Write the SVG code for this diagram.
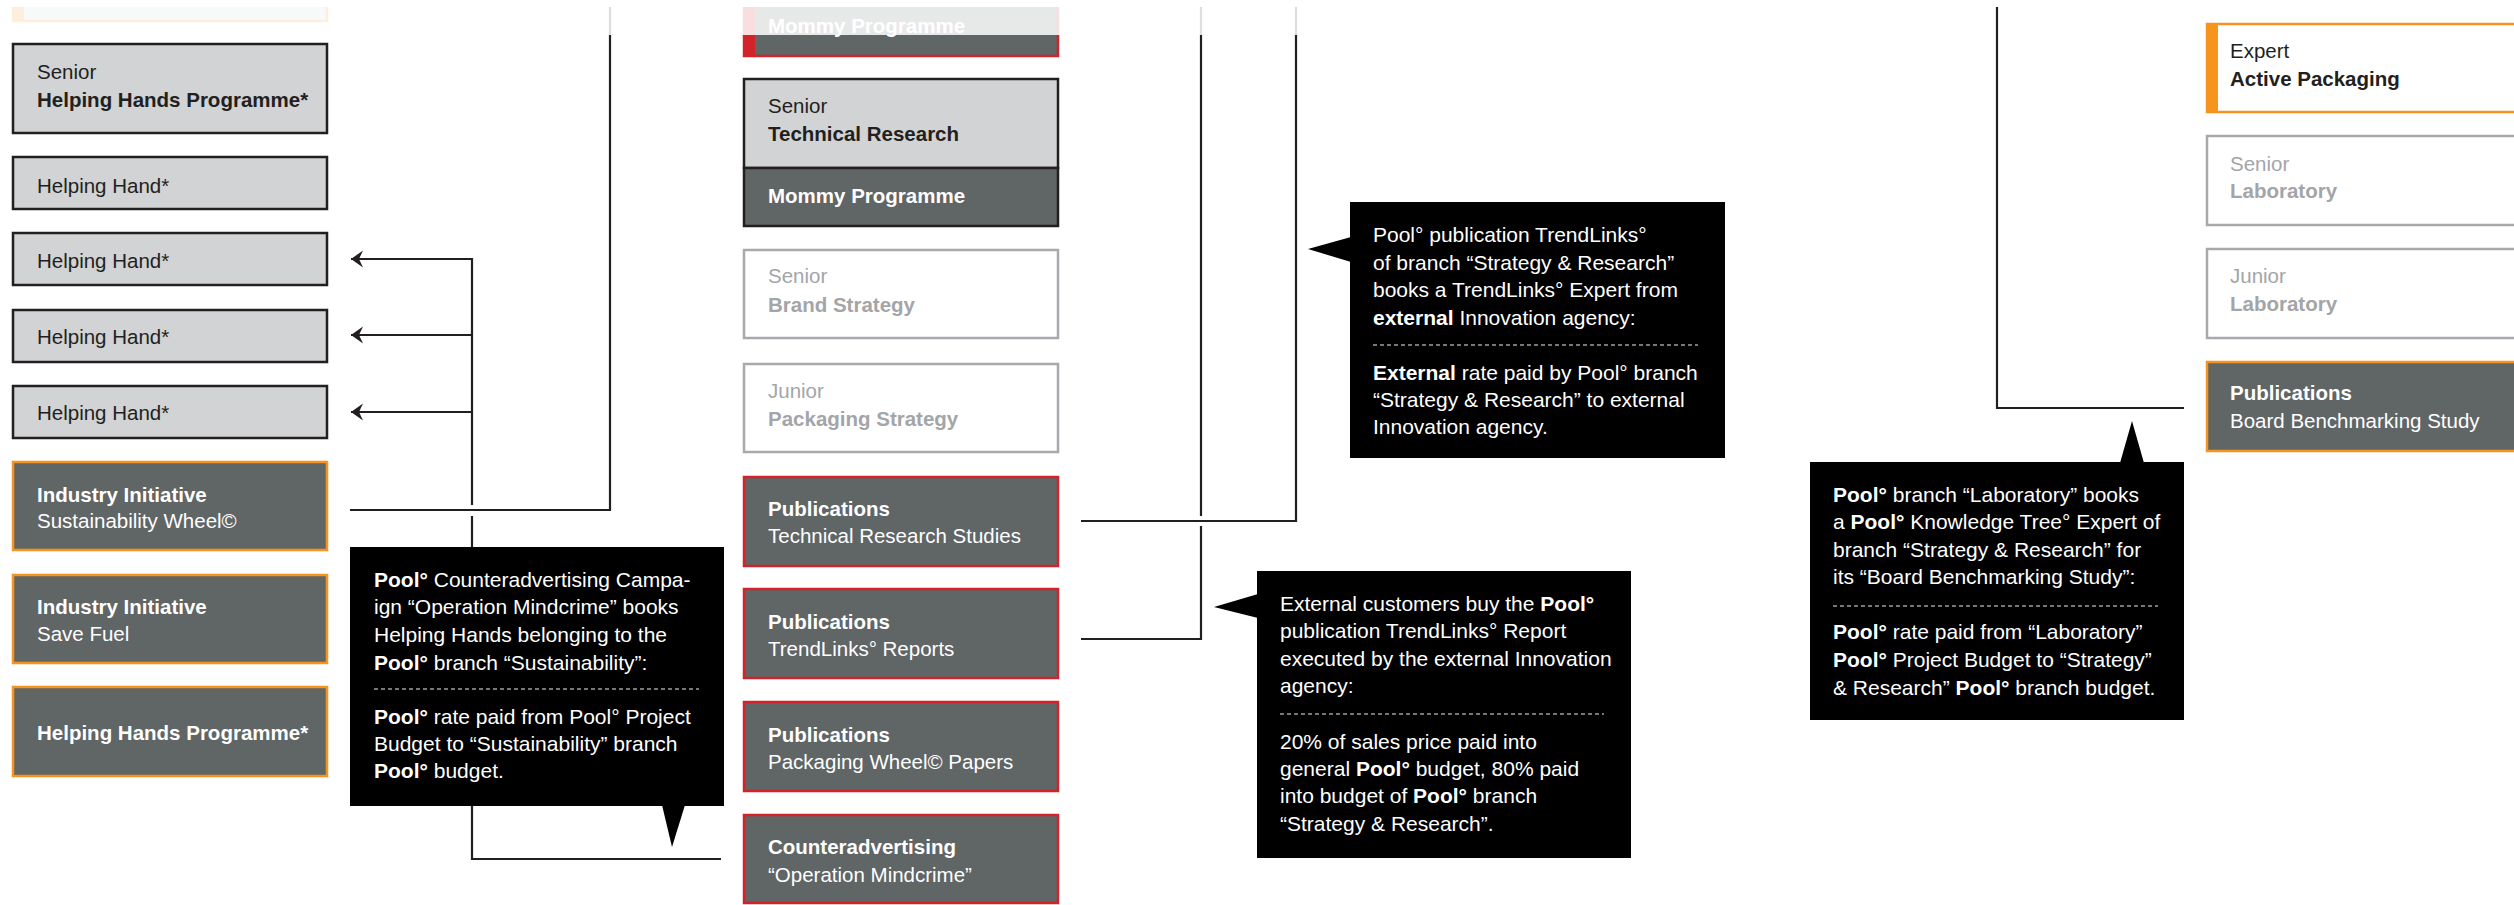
<svg xmlns="http://www.w3.org/2000/svg" width="2514" height="905" viewBox="0 0 2514 905">
<style>
text{font-family:"Liberation Sans",Arial,Helvetica,sans-serif;font-size:21px}
.b{font-weight:bold}
.nt{font-size:20.5px}
.dk{fill:#231f20}
.wt{fill:#ffffff}
.gy{fill:#a3a5a8}
.box-lg{fill:#d1d3d4;stroke:#231f20;stroke-width:2.5}
.box-dk-o{fill:#606566;stroke:#f7941d;stroke-width:2.5}
.box-dk-r{fill:#606566;stroke:#d2232a;stroke-width:2.5}
.box-dk-k{fill:#606566;stroke:#231f20;stroke-width:2.5}
.box-w{fill:#ffffff;stroke:#a7a9ac;stroke-width:2.5}
.box-w-o{fill:#ffffff;stroke:#f7941d;stroke-width:2.5}
.box-lg-o{fill:#d1d3d4;stroke:#f7941d;stroke-width:2.5}
.conn{fill:none;stroke:#231f20;stroke-width:2.2}
.call{fill:#000000}
.sep{stroke:#9d9fa2;stroke-width:1.3;stroke-dasharray:4 3}
</style>
<defs>
<marker id="arr" viewBox="0 0 12 18" refX="12" refY="9" markerWidth="12" markerHeight="18" markerUnits="userSpaceOnUse" orient="auto">
<path d="M12,9 L0,0.5 L4,9 L0,17.5 Z" fill="#231f20"/>
</marker>
</defs>

<g id="connectors">
<path class="conn" d="M472,259 H351" marker-end="url(#arr)"/>
<path class="conn" d="M472,335 H351" marker-end="url(#arr)"/>
<path class="conn" d="M472,412 H351" marker-end="url(#arr)"/>
<path class="conn" d="M472,258 V505"/>
<path class="conn" d="M472,516 V859 H721"/>
<path class="conn" d="M350,510 H610 V7"/>
<path class="conn" d="M1081,521 H1296 V7"/>
<path class="conn" d="M1081,639 H1201 V526"/>
<path class="conn" d="M1201,516 V7"/>
<path class="conn" d="M1997,7 V408 H2184"/>
</g>

<g id="left-top">
<rect class="box-lg-o" x="13" y="-60" width="314" height="81"/>
<rect x="12" y="-60" width="12" height="82" fill="#f7941d"/>
</g>
<g id="left-senior-hhp">
<rect class="box-lg" x="13" y="44" width="314" height="89"/>
<text class="nt dk" x="37" y="79">Senior</text>
<text class="nt dk b" x="37" y="107">Helping Hands Programme*</text>
</g>
<g id="left-hh1">
<rect class="box-lg" x="13" y="157" width="314" height="52"/>
<text class="nt dk" x="37" y="193">Helping Hand*</text>
</g>
<g id="left-hh2">
<rect class="box-lg" x="13" y="233" width="314" height="52"/>
<text class="nt dk" x="37" y="268">Helping Hand*</text>
</g>
<g id="left-hh3">
<rect class="box-lg" x="13" y="310" width="314" height="52"/>
<text class="nt dk" x="37" y="344">Helping Hand*</text>
</g>
<g id="left-hh4">
<rect class="box-lg" x="13" y="386" width="314" height="52"/>
<text class="nt dk" x="37" y="420">Helping Hand*</text>
</g>
<g id="left-ii-wheel">
<rect class="box-dk-o" x="13" y="462" width="314" height="88"/>
<text class="nt wt b" x="37" y="502">Industry Initiative</text>
<text class="nt wt" x="37" y="528">Sustainability Wheel©</text>
</g>
<g id="left-ii-fuel">
<rect class="box-dk-o" x="13" y="575" width="314" height="88"/>
<text class="nt wt b" x="37" y="614">Industry Initiative</text>
<text class="nt wt" x="37" y="641">Save Fuel</text>
</g>
<g id="left-hhp">
<rect class="box-dk-o" x="13" y="687" width="314" height="89"/>
<text class="nt wt b" x="37" y="740">Helping Hands Programme*</text>
</g>

<g id="mid-mommy-top">
<rect class="box-dk-r" x="744" y="-40" width="314" height="96"/>
<rect x="743" y="-40" width="12" height="97" fill="#d2232a"/>
<text class="nt wt b" x="768" y="33">Mommy Programme</text>
</g>
<g id="mid-senior-tr">
<rect class="box-lg" x="744" y="79" width="314" height="89"/>
<rect class="box-dk-k" x="744" y="168" width="314" height="58"/>
<text class="nt dk" x="768" y="113">Senior</text>
<text class="nt dk b" x="768" y="141">Technical Research</text>
<text class="nt wt b" x="768" y="203">Mommy Programme</text>
</g>
<g id="mid-senior-bs">
<rect class="box-w" x="744" y="250" width="314" height="88"/>
<text class="nt gy" x="768" y="283">Senior</text>
<text class="nt gy b" x="768" y="312">Brand Strategy</text>
</g>
<g id="mid-junior-ps">
<rect class="box-w" x="744" y="364" width="314" height="88"/>
<text class="nt gy" x="768" y="398">Junior</text>
<text class="nt gy b" x="768" y="426">Packaging Strategy</text>
</g>
<g id="mid-pub-trs">
<rect class="box-dk-r" x="744" y="477" width="314" height="89"/>
<text class="nt wt b" x="768" y="516">Publications</text>
<text class="nt wt" x="768" y="543">Technical Research Studies</text>
</g>
<g id="mid-pub-tl">
<rect class="box-dk-r" x="744" y="589" width="314" height="89"/>
<text class="nt wt b" x="768" y="629">Publications</text>
<text class="nt wt" x="768" y="656">TrendLinks° Reports</text>
</g>
<g id="mid-pub-pw">
<rect class="box-dk-r" x="744" y="702" width="314" height="89"/>
<text class="nt wt b" x="768" y="742">Publications</text>
<text class="nt wt" x="768" y="769">Packaging Wheel© Papers</text>
</g>
<g id="mid-counter">
<rect class="box-dk-r" x="744" y="815" width="314" height="88"/>
<text class="nt wt b" x="768" y="854">Counteradvertising</text>
<text class="nt wt" x="768" y="882">“Operation Mindcrime”</text>
</g>

<g id="right-expert-ap">
<rect class="box-w-o" x="2207" y="24" width="314" height="88"/>
<rect x="2206" y="23" width="12" height="90" fill="#f7941d"/>
<text class="nt dk" x="2230" y="58">Expert</text>
<text class="nt dk b" x="2230" y="86">Active Packaging</text>
</g>
<g id="right-senior-lab">
<rect class="box-w" x="2207" y="136" width="314" height="89"/>
<text class="nt gy" x="2230" y="171">Senior</text>
<text class="nt gy b" x="2230" y="198">Laboratory</text>
</g>
<g id="right-junior-lab">
<rect class="box-w" x="2207" y="249" width="314" height="89"/>
<text class="nt gy" x="2230" y="283">Junior</text>
<text class="nt gy b" x="2230" y="311">Laboratory</text>
</g>
<g id="right-pub-bbs">
<rect class="box-dk-o" x="2207" y="362" width="314" height="89"/>
<text class="nt wt b" x="2230" y="400">Publications</text>
<text class="nt wt" x="2230" y="428">Board Benchmarking Study</text>
</g>

<g id="callout-counteradvertising">
<rect class="call" x="350" y="547" width="374" height="259"/>
<path class="call" d="M662,805 L672,847 L685,805 Z"/>
<text class="wt" x="374" y="587"><tspan class="b">Pool°</tspan> Counteradvertising Campa-</text>
<text class="wt" x="374" y="614">ign “Operation Mindcrime” books</text>
<text class="wt" x="374" y="642">Helping Hands belonging to the</text>
<text class="wt" x="374" y="670"><tspan class="b">Pool°</tspan> branch “Sustainability”:</text>
<line class="sep" x1="374" y1="689" x2="699" y2="689"/>
<text class="wt" x="374" y="724"><tspan class="b">Pool°</tspan> rate paid from Pool° Project</text>
<text class="wt" x="374" y="751">Budget to “Sustainability” branch</text>
<text class="wt" x="374" y="778"><tspan class="b">Pool°</tspan> budget.</text>
</g>

<g id="callout-trendlinks-expert">
<rect class="call" x="1350" y="202" width="375" height="256"/>
<path class="call" d="M1351,237 L1308,249 L1351,262 Z"/>
<text class="wt" x="1373" y="242">Pool° publication TrendLinks°</text>
<text class="wt" x="1373" y="270">of branch “Strategy &amp; Research”</text>
<text class="wt" x="1373" y="297">books a TrendLinks° Expert from</text>
<text class="wt" x="1373" y="325"><tspan class="b">external</tspan> Innovation agency:</text>
<line class="sep" x1="1373" y1="345" x2="1698" y2="345"/>
<text class="wt" x="1373" y="380"><tspan class="b">External</tspan> rate paid by Pool° branch</text>
<text class="wt" x="1373" y="407">“Strategy &amp; Research” to external</text>
<text class="wt" x="1373" y="434">Innovation agency.</text>
</g>

<g id="callout-external-customers">
<rect class="call" x="1257" y="571" width="374" height="287"/>
<path class="call" d="M1258,594 L1214,607 L1258,618 Z"/>
<text class="wt" x="1280" y="611">External customers buy the <tspan class="b">Pool°</tspan></text>
<text class="wt" x="1280" y="638">publication TrendLinks° Report</text>
<text class="wt" x="1280" y="666">executed by the external Innovation</text>
<text class="wt" x="1280" y="693">agency:</text>
<line class="sep" x1="1280" y1="714" x2="1604" y2="714"/>
<text class="wt" x="1280" y="749">20% of sales price paid into</text>
<text class="wt" x="1280" y="776">general <tspan class="b">Pool°</tspan> budget, 80% paid</text>
<text class="wt" x="1280" y="803">into budget of <tspan class="b">Pool°</tspan> branch</text>
<text class="wt" x="1280" y="831">“Strategy &amp; Research”.</text>
</g>

<g id="callout-laboratory">
<rect class="call" x="1810" y="462" width="374" height="258"/>
<path class="call" d="M2120,463 L2132,421 L2144,463 Z"/>
<text class="wt" x="1833" y="502"><tspan class="b">Pool°</tspan> branch “Laboratory” books</text>
<text class="wt" x="1833" y="529">a <tspan class="b">Pool°</tspan> Knowledge Tree° Expert of</text>
<text class="wt" x="1833" y="557">branch “Strategy &amp; Research” for</text>
<text class="wt" x="1833" y="584">its “Board Benchmarking Study”:</text>
<line class="sep" x1="1833" y1="606" x2="2158" y2="606"/>
<text class="wt" x="1833" y="639"><tspan class="b">Pool°</tspan> rate paid from “Laboratory”</text>
<text class="wt" x="1833" y="667"><tspan class="b">Pool°</tspan> Project Budget to “Strategy”</text>
<text class="wt" x="1833" y="695">&amp; Research” <tspan class="b">Pool°</tspan> branch budget.</text>
</g>

<rect x="0" y="7" width="1500" height="28" fill="#ffffff" fill-opacity="0.85"/>
<rect x="0" y="0" width="2514" height="7" fill="#ffffff"/>
</svg>
